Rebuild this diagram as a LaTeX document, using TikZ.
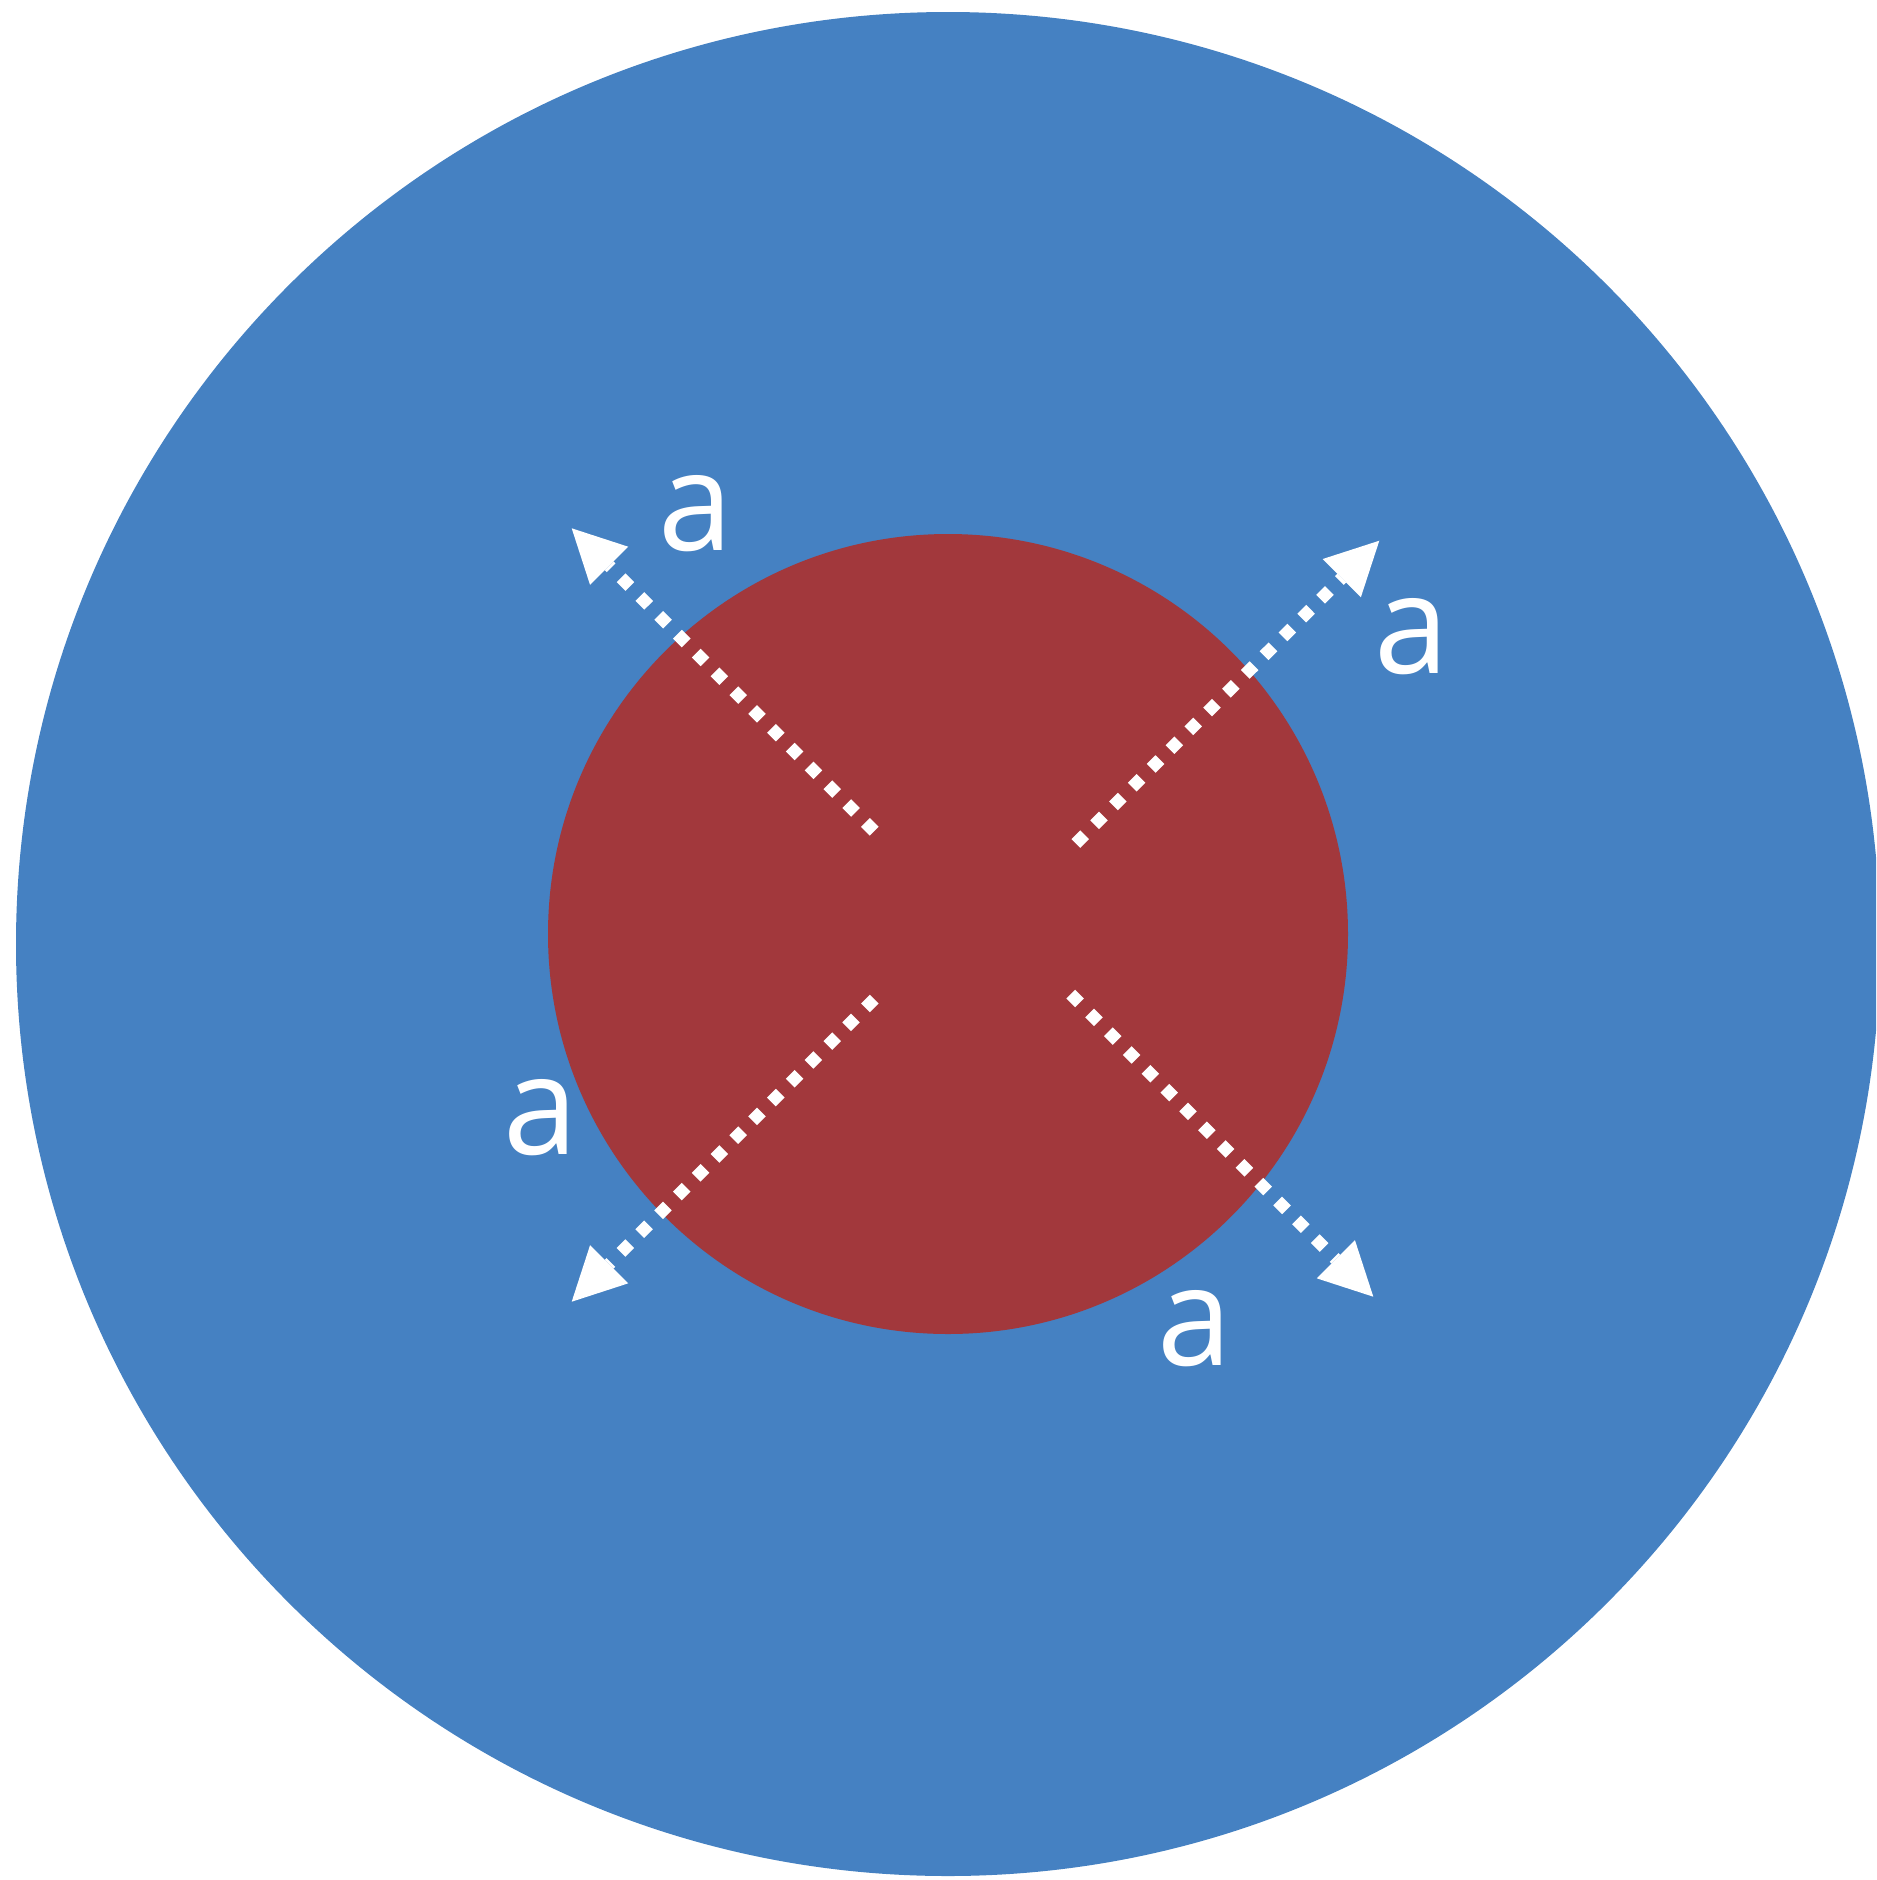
\documentclass[tikz,border=0pt]{standalone}
\usepackage{fontspec}
\setmainfont{Open Sans}
\usetikzlibrary{arrows.meta}
\definecolor{outerblue}{HTML}{4581C2}
\definecolor{innerred}{HTML}{A2383C}
\newcommand{\lblglyph}{\scalebox{0.97}[1]{a}}
\begin{document}
\begin{tikzpicture}[x=0.5pt,y=-0.5pt,
  radial/.style={draw=white, line width=6.2pt, line cap=butt, dash pattern=on 6.2pt off 7.1pt,
    -{Triangle[length=26.5pt,width=27pt,line width=0pt]}},
  lbl/.style={text=white, inner sep=0pt, font=\fontsize{69}{71}\selectfont}]
\useasboundingbox (0,0) rectangle (1876,1880);
\clip (0,0) rectangle (1876,1880);
\fill[outerblue] (948,944) circle[radius=932];
\fill[innerred] (948,934) circle[radius=400];
% arrow end points
\coordinate (s1) at (874.2,831.2);
\coordinate (t1) at (571.7,528.3);
\coordinate (s2) at (1075.8,843.5);
\coordinate (t2) at (1379.3,540.7);
\coordinate (s3) at (874.2,999.1);
\coordinate (t3) at (571.7,1301.7);
\coordinate (s4) at (1070.8,994.1);
\coordinate (t4) at (1373.3,1296.7);
\draw[radial] (s1) -- (t1);
\draw[radial] (s2) -- (t2);
\draw[radial] (s3) -- (t3);
\draw[radial] (s4) -- (t4);
% labels
\node[lbl] (l1) at (696,514) {\lblglyph};
\node[lbl] (l2) at (1412,637) {\lblglyph};
\node[lbl] (l3) at (541,1118) {\lblglyph};
\node[lbl] (l4) at (1195,1329) {\lblglyph};
\end{tikzpicture}
\end{document}
